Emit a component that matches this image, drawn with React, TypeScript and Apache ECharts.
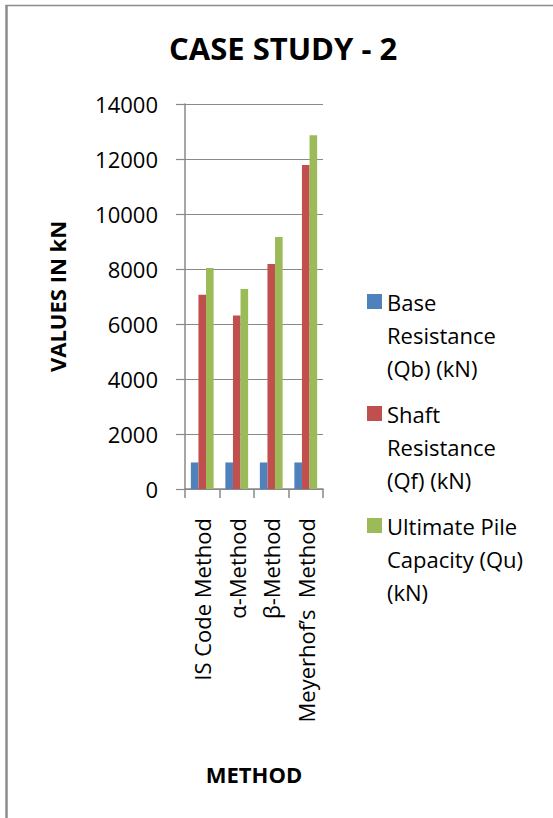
import React, { useEffect, useRef } from "react";
import * as echarts from "echarts";

const categories = ["IS Code Method", "α-Method", "β-Method", "Meyerhof’s  Method"];
const seriesNames = [
  "Base Resistance (Qb) (kN)",
  "Shaft Resistance (Qf) (kN)",
  "Ultimate Pile Capacity (Qu) (kN)",
];
const legendLines: Record<string, string> = {
  "Base Resistance (Qb) (kN)": "Base\nResistance\n(Qb) (kN)",
  "Shaft Resistance (Qf) (kN)": "Shaft\nResistance\n(Qf) (kN)",
  "Ultimate Pile Capacity (Qu) (kN)": "Ultimate Pile\nCapacity (Qu)\n(kN)",
};
const baseResistance = [965, 965, 965, 965];
const shaftResistance = [7060, 6305, 8185, 11780];
const ultimateCapacity = [8035, 7275, 9165, 12860];
const seriesColors = ["#4F81BD", "#C0504D", "#9BBB59"];

const FONT = "'Open Sans', 'Noto Sans', sans-serif";
const GRAY = "#898989";

export default function App() {
  const ref = useRef<HTMLDivElement>(null);
  useEffect(() => {
    document.body.style.margin = "0";
    if (!ref.current) return;
    const chart = echarts.init(ref.current, null, { renderer: "svg" });
    const values = [baseResistance, shaftResistance, ultimateCapacity];
    chart.setOption({
      animation: false,
      backgroundColor: "#ffffff",
      title: {
        text: "CASE STUDY - 2",
        left: 169,
        top: 32,
        padding: 0,
        textStyle: {
          fontFamily: FONT,
          fontWeight: "bold",
          fontSize: 31,
          lineHeight: 31,
          color: "#000",
        },
      },
      legend: {
        orient: "vertical",
        left: 367,
        top: 219,
        padding: 0,
        itemWidth: 15,
        itemHeight: 15,
        itemGap: -53,
        icon: "rect",
        data: seriesNames,
        formatter: (name: string) => "\n\n" + (legendLines[name] || name),
        textStyle: {
          fontFamily: FONT,
          fontSize: 22,
          lineHeight: 33,
          color: "#000",
        },
      },
      grid: { left: 185, right: 230, top: 104, bottom: 329, containLabel: false },
      xAxis: {
        type: "category",
        data: categories,
        name: "METHOD",
        nameLocation: "middle",
        nameGap: 274,
        nameTextStyle: {
          fontFamily: FONT,
          fontWeight: "bold",
          fontSize: 22,
          lineHeight: 22,
          color: "#000",
        },
        axisLine: { show: true, lineStyle: { color: GRAY, width: 1.5 } },
        axisTick: { show: true, length: 9, lineStyle: { color: GRAY, width: 1.5 } },
        axisLabel: {
          rotate: 90,
          margin: 29,
          interval: 0,
          fontFamily: FONT,
          fontSize: 22,
          color: "#000",
        },
      },
      yAxis: {
        type: "value",
        min: 0,
        max: 14000,
        interval: 2000,
        name: "VALUES IN kN",
        nameLocation: "middle",
        nameGap: 117,
        nameTextStyle: {
          fontFamily: FONT,
          fontWeight: "bold",
          fontSize: 22,
          lineHeight: 22,
          color: "#000",
        },
        axisLine: { show: true, lineStyle: { color: GRAY, width: 1.5 } },
        axisTick: { show: true, length: 9, lineStyle: { color: GRAY, width: 1.2 } },
        splitLine: { show: true, lineStyle: { color: GRAY, width: 1.2 } },
        axisLabel: {
          margin: 27,
          fontFamily: FONT,
          fontSize: 22,
          color: "#000",
          formatter: (v: number) => String(v),
        },
      },
      series: seriesNames.map((name, i) => ({
        name,
        type: "bar",
        data: values[i],
        barGap: "0%",
        barCategoryGap: "34%",
        itemStyle: { color: seriesColors[i] },
      })),
      graphic: [
        {
          type: "line",
          shape: { x1: 6.5, y1: 5, x2: 6.5, y2: 818 },
          style: { stroke: "#8c8c8c", lineWidth: 2.5 },
        },
        {
          type: "line",
          shape: { x1: 5.5, y1: 5.5, x2: 553, y2: 5.5 },
          style: { stroke: "#8c8c8c", lineWidth: 1.5 },
        },
      ],
    });
    return () => chart.dispose();
  }, []);
  return <div ref={ref} style={{ width: 553, height: 818 }} />;
}
